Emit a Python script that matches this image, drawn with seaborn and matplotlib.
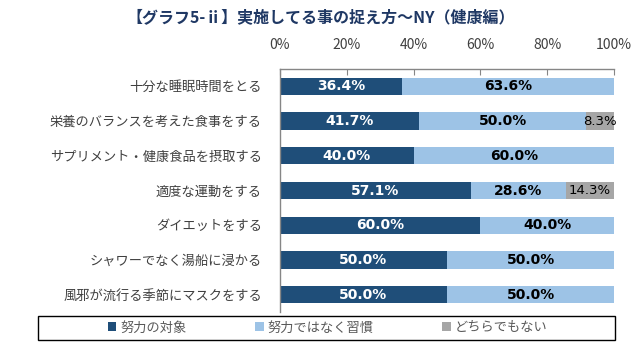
import numpy as np
import pandas as pd
import matplotlib
matplotlib.use('Agg')
import matplotlib.pyplot as plt
import seaborn as sns
from matplotlib.patches import Rectangle, Patch
from matplotlib.ticker import FuncFormatter

# データ
categories = ['十分な睡眠時間をとる', '栄養のバランスを考えた食事をする', 'サプリメント・健康食品を摂取する',
              '適度な運動をする', 'ダイエットをする', 'シャワーでなく湯船に浸かる', '風邪が流行る季節にマスクをする']
effort = [36.4, 41.7, 40.0, 57.1, 60.0, 50.0, 50.0]
habit = [63.6, 50.0, 60.0, 28.6, 40.0, 50.0, 50.0]
neither = [0.0, 8.3, 0.0, 14.3, 0.0, 0.0, 0.0]
series_names = ['努力の対象', '努力ではなく習慣', 'どちらでもない']
title = '【グラフ5-ⅱ】実施してる事の捉え方～NY（健康編）'

colors = ['#1F4E79', '#9DC3E6', '#A6A6A6']

sns.set_style('white')
plt.rcParams['font.family'] = ['Noto Sans CJK JP', 'DejaVu Sans']

df = pd.DataFrame({'cat': categories, 'effort': effort, 'habit': habit, 'neither': neither})
df['cum2'] = df['effort'] + df['habit']
df['cum3'] = df['cum2'] + df['neither']

fig = plt.figure(figsize=(6.41, 3.52), dpi=100)
ax = fig.add_axes([280 / 641, 1 - 312 / 352, 334 / 641, 243 / 352])

# 積み上げ（後ろから描く）
for col, c in zip(['cum3', 'cum2', 'effort'], [colors[2], colors[1], colors[0]]):
    sns.barplot(data=df, x=col, y='cat', color=c, saturation=1, width=0.5,
                errorbar=None, linewidth=0, ax=ax)

# 数値ラベル
for i, row in df.iterrows():
    ax.text(row['effort'] / 2, i, f"{row['effort']:.1f}%", ha='center', va='center',
            color='white', fontsize=10, fontweight='bold', family='DejaVu Sans')
    ax.text(row['effort'] + row['habit'] / 2, i, f"{row['habit']:.1f}%", ha='center', va='center',
            color='black', fontsize=10, fontweight='bold', family='DejaVu Sans')
    if row['neither'] > 0:
        ax.text(row['cum2'] + row['neither'] / 2, i, f"{row['neither']:.1f}%", ha='center', va='center',
                color='black', fontsize=9.5, family='DejaVu Sans')

# 軸
ax.set_xlim(0, 100)
ax.set_ylim(6.5, -0.5)
ax.set_xticks(np.arange(0, 101, 20))
ax.xaxis.set_major_formatter(FuncFormatter(lambda v, p: f'{v:.0f}%'))
ax.xaxis.tick_top()
ax.set_xlabel('')
ax.set_ylabel('')
ax.tick_params(axis='x', direction='in', length=4, color='#868686', pad=12,
               labelsize=10, labelcolor='#404040')
ax.set_yticks(np.arange(-0.5, 7, 1), minor=True)
ax.tick_params(axis='y', which='major', length=0, pad=13, labelsize=9.5, labelcolor='#404040')
ax.tick_params(axis='y', which='minor', direction='in', length=4, color='#868686')
for s in ['right', 'bottom']:
    ax.spines[s].set_visible(False)
for s in ['top', 'left']:
    ax.spines[s].set_color('#868686')
    ax.spines[s].set_linewidth(1)

fig.text(0.5, 1 - 17 / 352, title, ha='center', va='center', fontsize=11.5,
         fontweight='bold', color='#1F3864')

# 凡例
fig.patches.append(Rectangle((38 / 641, 1 - 340 / 352), 577 / 641, 24 / 352,
                             transform=fig.transFigure, fill=False, edgecolor='black',
                             linewidth=1, zorder=5))
handles = [Patch(facecolor=c, edgecolor='none') for c in colors]
fig.legend(handles, series_names, loc='center', bbox_to_anchor=(327.5 / 641, 1 - 328 / 352),
           ncol=3, frameon=False, fontsize=9.5, labelcolor='#595959',
           handlelength=0.65, handleheight=0.65, handletextpad=0.3, columnspacing=5.2)

fig.savefig('out.png', dpi=100)
